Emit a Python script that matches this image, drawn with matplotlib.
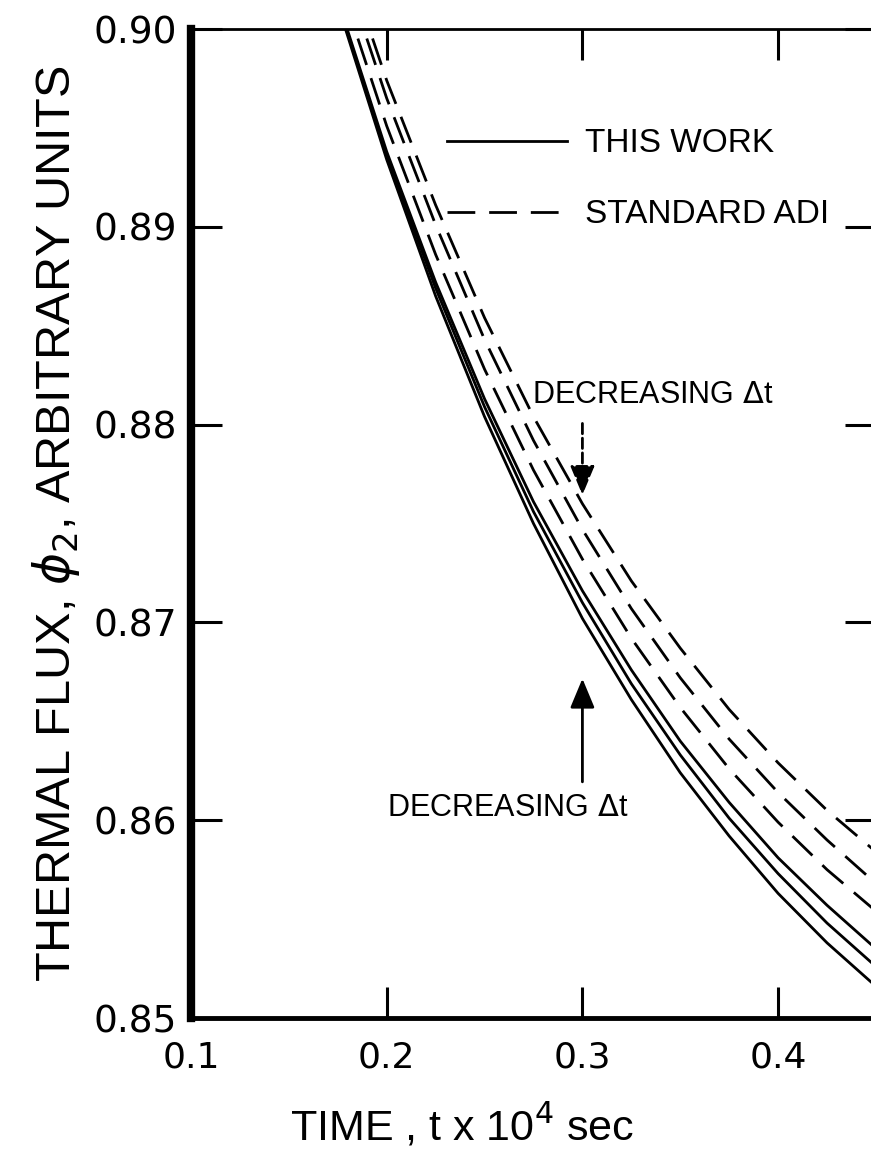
import matplotlib
matplotlib.use("Agg")
import matplotlib.pyplot as plt
from matplotlib.lines import Line2D

# time, t x 10^4 sec
tiempo = [0.17, 0.20, 0.225, 0.25, 0.275, 0.30, 0.325, 0.35, 0.375, 0.40, 0.425, 0.45]

# this work (solid), three time steps
este_1 = [0.9030, 0.8938, 0.8872, 0.8813, 0.8761, 0.8716, 0.8676, 0.8640, 0.8609, 0.8581, 0.8557, 0.8535]
este_2 = [0.9029, 0.8936, 0.8869, 0.8809, 0.8756, 0.8710, 0.8669, 0.8633, 0.8601, 0.8573, 0.8548, 0.8526]
este_3 = [0.9028, 0.8934, 0.8865, 0.8804, 0.8750, 0.8702, 0.8661, 0.8624, 0.8592, 0.8563, 0.8538, 0.8516]

# standard ADI (dashed), three time steps
adi_1 = [0.9041, 0.8951, 0.8886, 0.8828, 0.8777, 0.8732, 0.8692, 0.8657, 0.8626, 0.8599, 0.8575, 0.8554]
adi_2 = [0.9054, 0.8965, 0.8901, 0.8843, 0.8792, 0.8747, 0.8707, 0.8672, 0.8641, 0.8614, 0.8590, 0.8568]
adi_3 = [0.9062, 0.8974, 0.8911, 0.8854, 0.8804, 0.8760, 0.8721, 0.8687, 0.8656, 0.8629, 0.8605, 0.8584]

xticks = [0.1, 0.2, 0.3, 0.4]
xlabels = ["0.1", "0.2", "0.3", "0.4"]
yticks = [0.85, 0.86, 0.87, 0.88, 0.89, 0.90]
ylabels = ["0.85", "0.86", "0.87", "0.88", "0.89", "0.90"]

narrow = ["Liberation Sans Narrow", "Liberation Sans", "DejaVu Sans"]
plt.rcParams["font.family"] = ["DejaVu Sans"]

fig = plt.figure(figsize=(8.71, 11.52), dpi=100)
ax = fig.add_axes([0.2193, 0.1163, 0.7864, 0.8585])

guion = (0, (10, 5))
for serie in [este_1, este_2, este_3]:
    ax.plot(tiempo, serie, "-", color="black", lw=2)
for serie in [adi_1, adi_2, adi_3]:
    ax.plot(tiempo, serie, color="black", lw=2, linestyle=guion)

ax.set_xlim(0.1, 0.45)
ax.set_ylim(0.85, 0.90)

ax.spines["left"].set_linewidth(6)
ax.spines["bottom"].set_linewidth(3.5)
ax.spines["top"].set_linewidth(2)
ax.spines["right"].set_linewidth(2)

ax.set_xticks(xticks)
ax.set_xticklabels(xlabels, fontsize=26)
ax.set_yticks(yticks)
ax.set_yticklabels(ylabels, fontsize=27)
ax.tick_params(axis="both", direction="in", length=22, width=2.2, top=True, right=True)
ax.tick_params(axis="x", pad=16)
ax.tick_params(axis="y", pad=10)

ax.set_xlabel(r"TIME , t x 10$^4$ sec", fontsize=31, family=narrow, labelpad=16)
ax.xaxis.set_label_coords(0.396, -0.085)
ax.set_ylabel(r"THERMAL FLUX, $\phi_2$, ARBITRARY UNITS", fontsize=35, family=narrow, labelpad=8)

manijas = [Line2D([], [], color="black", lw=2),
           Line2D([], [], color="black", lw=2, linestyle=guion)]
ax.legend(manijas, ["THIS WORK", "STANDARD ADI"], loc="upper left",
          bbox_to_anchor=(0.33, 0.93), frameon=False, handlelength=3.6,
          handletextpad=0.55, labelspacing=1.2, prop={"family": narrow, "size": 24})

ax.text(0.336, 0.8815, r"DECREASING $\Delta$t", fontsize=22, family=narrow, ha="center", va="center")
ax.annotate("", xy=(0.3, 0.8763), xytext=(0.3, 0.8802),
            arrowprops=dict(arrowstyle="-|>,head_length=0.6,head_width=0.25", color="black",
                            lw=2, linestyle="--", mutation_scale=30))
ax.text(0.262, 0.8606, r"DECREASING $\Delta$t", fontsize=22, family=narrow, ha="center", va="center")
ax.annotate("", xy=(0.3, 0.8673), xytext=(0.3, 0.8618),
            arrowprops=dict(arrowstyle="-|>,head_length=0.6,head_width=0.25", color="black",
                            lw=2, mutation_scale=30))

fig.savefig("out.png", dpi=100)
